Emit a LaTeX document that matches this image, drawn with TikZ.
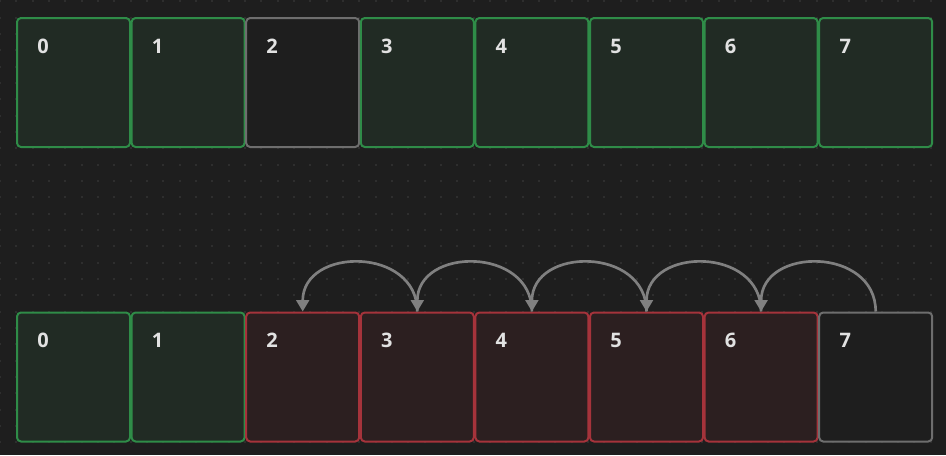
\documentclass[tikz,border=0pt]{standalone}
\usepackage{fontspec}
\setmainfont{Open Sans}
\usetikzlibrary{positioning}
\usetikzlibrary{arrows.meta}
\usepackage{xcolor}

\definecolor{bgcol}{HTML}{1E1E1E}
\definecolor{dotcol}{HTML}{2E2E2E}
\definecolor{okfill}{HTML}{212B24}
\definecolor{okline}{HTML}{2F8C48}
\definecolor{badfill}{HTML}{2C1F20}
\definecolor{badline}{HTML}{A5333B}
\definecolor{emptyline}{HTML}{6E6E6E}
\definecolor{arccol}{HTML}{808080}
\definecolor{numcol}{HTML}{E2E2E2}

\tikzset{
  slot/.style={draw, line width=1.5pt, rounded corners=3pt, minimum width=84.75pt, minimum height=96.75pt, inner sep=0pt, anchor=north west},
  okslot/.style={slot, draw=okline, fill=okfill},
  badslot/.style={slot, draw=badline, fill=badfill},
  emptyslot/.style={slot, draw=emptyline, fill=bgcol},
  num/.style={text=numcol, font=\bfseries\fontsize{15pt}{16pt}\selectfont, inner sep=0pt, anchor=base},
  shift arc/.style={draw=arccol, line width=2pt, -{Triangle[width=9.5pt,length=8.5pt]}}
}

\begin{document}
\begin{tikzpicture}[x=0.75pt,y=-0.75pt]

\fill[bgcol] (0,0) rectangle (946,455);
\useasboundingbox (0,0) rectangle (946,455);

% dot grid
\foreach \i in {0,...,58} {
  \foreach \j in {0,...,27} {
    \fill[dotcol] ({\i*16.33-1},{1.4+\j*16.33-1}) rectangle +(2,2);
  }
}

% top row
\foreach \k/\st in {0/okslot,1/okslot,2/emptyslot,3/okslot,4/okslot,5/okslot,6/okslot,7/okslot} {
  \node[\st] (top\k) at ({16+\k*114.6},17) {};
  \node[num] (topnum\k) at ([xshift=20.25pt,yshift=-27.2pt]top\k.north west) {\k};
}

% bottom row
\foreach \k/\st in {0/okslot,1/okslot,2/badslot,3/badslot,4/badslot,5/badslot,6/badslot,7/emptyslot} {
  \node[\st] (bot\k) at ({16+\k*114.6},311.5) {};
  \node[num] (botnum\k) at ([xshift=20.25pt,yshift=-27.2pt]bot\k.north west) {\k};
}

% shifting arcs
\foreach \k/\p in {7/6,6/5,5/4,4/3,3/2} {
  \draw[shift arc] (bot\k.north) .. controls +(0,-65) and +(0,-65) .. (bot\p.north);
}

\end{tikzpicture}
\end{document}
